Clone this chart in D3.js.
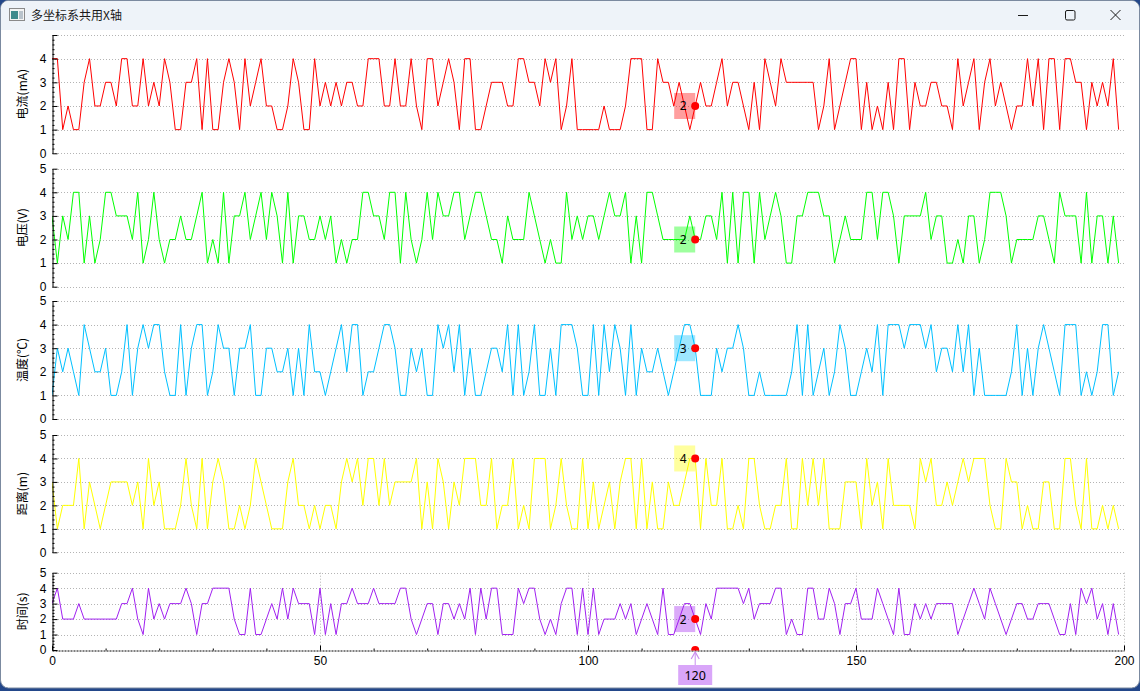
<!DOCTYPE html>
<html>
<head>
<meta charset="utf-8">
<script src="https://cdn.jsdelivr.net/npm/d3@7"></script>
<style>
html, body { margin: 0; padding: 0; background: #23478a; overflow: hidden; }
svg { display: block; font-family: "Noto Sans", "Noto Sans CJK SC", sans-serif; }
</style>
</head>
<body>
<svg id="chart" width="1140" height="691"></svg>
<script>
// series values, one entry per x = 0..199
const current = [
  4,4,1,2,1,1,3,4,2,2, 3,3,2,4,4,2,2,4,2,3, 2,4,3,1,1,3,3,4,1,4, 1,1,3,4,3,1,4,2,3,4,
  2,2,1,1,2,4,3,1,1,4, 2,3,2,3,2,3,3,2,2,4, 4,4,2,2,4,2,2,4,2,1, 4,4,2,3,4,3,1,4,4,1,
  1,2,3,3,3,2,2,4,4,3, 3,2,4,3,4,1,2,4,1,1, 1,1,1,2,1,1,1,2,4,4, 4,1,1,4,3,3,2,3,2,1,
  2,3,2,2,3,4,2,3,3,2, 1,3,1,4,3,2,4,3,3,3, 3,3,3,1,2,4,1,2,3,4, 4,1,3,1,2,1,3,1,4,4,
  1,3,2,2,3,3,2,2,1,4, 2,3,4,1,3,4,2,3,2,1, 2,2,4,2,4,1,4,4,1,4, 4,3,3,1,3,2,3,2,4,1
];
const voltage = [
  3,1,3,2,4,4,1,3,1,2, 4,4,3,3,3,2,4,1,2,4, 2,1,2,2,3,2,2,3,4,1, 2,1,4,1,3,3,4,2,3,4,
  2,4,3,1,4,1,3,3,2,2, 3,2,3,1,2,1,2,2,4,4, 3,3,2,4,4,1,4,2,1,2, 4,2,4,3,3,4,4,2,3,4,
  4,3,2,2,1,3,2,2,2,4, 3,2,1,2,1,1,4,2,3,2, 3,3,2,3,4,3,3,4,1,3, 1,4,4,3,2,2,2,2,2,3,
  2,2,3,3,2,4,1,4,1,4, 4,1,4,2,3,4,3,1,1,3, 3,4,4,4,3,3,1,2,3,2, 2,2,4,4,2,4,4,3,1,3,
  3,3,3,4,2,3,3,1,1,2, 1,3,3,1,2,4,4,4,3,1, 2,2,2,2,3,3,2,1,4,3, 3,3,1,4,1,3,3,1,3,1
];
const temperature = [
  1,3,2,3,2,1,4,3,2,2, 3,1,1,2,4,1,3,4,3,4, 4,2,1,1,4,1,3,4,4,1, 2,4,3,3,1,3,3,4,1,1,
  3,3,2,2,3,1,3,1,4,2, 2,1,2,3,4,2,4,4,1,2, 2,3,4,4,3,1,1,3,2,3, 1,1,4,3,4,2,4,1,3,1,
  1,2,3,3,2,4,1,4,1,2, 4,1,1,3,1,4,4,4,3,1, 1,4,1,4,2,4,3,1,4,1, 3,2,2,3,2,1,2,3,4,4,
  3,1,1,1,3,2,3,3,4,3, 1,1,2,1,1,1,1,1,2,4, 1,4,1,2,3,1,2,4,3,1, 1,2,3,2,4,1,4,4,4,3,
  4,4,4,3,4,2,3,3,2,4, 2,4,1,3,1,1,1,1,1,2, 4,1,3,1,3,4,3,2,1,4, 4,4,1,2,1,2,4,4,1,2
];
const distance = [
  3,1,2,2,2,4,1,3,2,1, 2,3,3,3,3,2,3,1,4,2, 3,1,1,1,2,4,2,1,4,1, 3,4,3,1,1,2,1,2,4,3,
  2,1,1,1,3,4,2,2,1,2, 1,2,2,1,3,4,3,4,2,4, 4,2,4,2,3,3,3,3,4,1, 3,1,4,3,1,3,2,4,4,4,
  2,2,4,1,2,2,4,1,2,1, 4,4,4,1,2,4,2,1,1,4, 1,3,1,2,3,1,3,4,4,1, 4,1,3,1,1,3,2,2,3,4,
  4,1,4,2,2,4,1,1,2,1, 4,4,2,1,1,2,2,4,1,1, 4,2,4,2,4,1,1,1,3,3, 3,1,4,2,3,1,4,2,2,2,
  2,1,4,3,4,2,2,3,2,3, 4,3,4,4,4,2,1,1,4,3, 3,1,2,1,1,3,3,1,1,4, 4,2,1,4,1,1,2,1,2,1
];
const time = [
  3,4,2,2,2,3,2,2,2,2, 2,2,2,3,3,4,2,1,4,2, 3,2,3,3,3,4,3,1,3,3, 4,4,4,4,2,1,1,4,1,1,
  2,3,2,4,2,4,3,3,3,1, 4,1,3,1,3,3,4,3,3,3, 4,3,3,3,3,4,4,2,1,2, 3,3,1,3,3,2,3,2,4,1,
  4,2,4,4,1,1,1,4,3,4, 4,2,1,2,1,3,4,4,1,4, 1,4,1,2,2,2,3,2,3,1, 2,3,2,1,4,1,1,2,3,3,
  2,1,3,2,4,4,4,4,4,3, 4,2,3,3,3,4,4,1,2,1, 1,4,4,2,2,4,3,1,3,3, 4,2,2,2,4,3,2,1,4,1,
  1,3,2,3,2,3,3,3,3,1, 2,3,4,3,2,4,3,2,1,2, 3,3,2,2,3,3,3,2,1,1, 3,1,4,3,4,2,3,1,3,1
];

const seriesList = [current, voltage, temperature, distance, time];
const axisLabels = ['电流(mA)', '电压(V)', '温度(℃)', '距离(m)', '时间(s)'];
const colors = ['#ff0000', '#00ff00', '#00c0ff', '#ffff00', '#a020f0'];
const yTicks = [0, 1, 2, 3, 4, 5];
const xTicks = [0, 50, 100, 150, 200];
const tracerX = 120;

// layout of the stacked axis rects
const panelTop = [35, 168.7, 301, 435, 572.7];
const panelBottom = [153.3, 286.7, 419, 552.3, 650];
const plotLeft = 52, plotRight = 1124;

const svg = d3.select('#chart');

// window frame
svg.append('rect')
    .attr('x', 0.5).attr('y', 0.5)
    .attr('width', 1139).attr('height', 687.5)
    .attr('rx', 8)
    .attr('fill', '#ffffff')
    .attr('stroke', '#7b8aa0');

svg.append('clipPath').attr('id', 'winclip')
    .append('rect')
    .attr('x', 1).attr('y', 1).attr('width', 1138).attr('height', 686).attr('rx', 8);

svg.append('rect')
    .attr('clip-path', 'url(#winclip)')
    .attr('x', 0).attr('y', 0).attr('width', 1140).attr('height', 30)
    .attr('fill', '#eef3f9');

// title bar icon
const icon = svg.append('g');
icon.append('rect')
    .attr('x', 9.5).attr('y', 8.5).attr('width', 15).attr('height', 12)
    .attr('fill', '#f4f4f4').attr('stroke', '#8a8a8a');
icon.append('rect')
    .attr('x', 11).attr('y', 11).attr('width', 7).attr('height', 8)
    .attr('fill', '#3f8a8c');
icon.append('rect')
    .attr('x', 19).attr('y', 11).attr('width', 4).attr('height', 8)
    .attr('fill', '#b9c3cc');

svg.append('text')
    .attr('x', 31).attr('y', 19.5)
    .attr('font-family', '"Noto Sans CJK SC", sans-serif')
    .attr('font-size', 12)
    .attr('fill', '#1a1a1a')
    .text('多坐标系共用X轴');

// window buttons
const btn = svg.append('g').attr('stroke', '#1a1a1a').attr('fill', 'none').attr('stroke-width', 1);
btn.append('line').attr('x1', 1018).attr('x2', 1028).attr('y1', 15.5).attr('y2', 15.5);
btn.append('rect').attr('x', 1065.5).attr('y', 10.5).attr('width', 9.5).attr('height', 9.5).attr('rx', 1.5);
btn.append('line').attr('x1', 1110.5).attr('y1', 10).attr('x2', 1120.5).attr('y2', 20);
btn.append('line').attr('x1', 1120.5).attr('y1', 10).attr('x2', 1110.5).attr('y2', 20);

// shared x scale
const x = d3.scaleLinear().domain([0, 200]).range([plotLeft, plotRight]);
const minorY = d3.range(0, 5.0001, 0.2).filter(v => Math.abs(v - Math.round(v)) > 1e-6);
const minorX = d3.range(0, 200.001, 10).filter(v => v % 50 !== 0);

seriesList.forEach((values, i) => {
    const y = d3.scaleLinear().domain([0, 5]).range([panelBottom[i], panelTop[i]]);
    const isLast = i === seriesList.length - 1;
    const g = svg.append('g');

    // horizontal grid
    g.append('g')
        .selectAll('line')
        .data(isLast ? yTicks.slice(1) : yTicks)
        .enter()
        .append('line')
        .attr('x1', plotLeft).attr('x2', plotRight)
        .attr('y1', d => Math.round(y(d)) + 0.5).attr('y2', d => Math.round(y(d)) + 0.5)
        .attr('stroke', '#b4b4b4')
        .attr('stroke-dasharray', '1,2');

    // vertical grid only on the bottom rect
    if (isLast) {
        g.append('g')
            .selectAll('line')
            .data(xTicks.slice(1))
            .enter()
            .append('line')
            .attr('x1', d => Math.round(x(d)) + 0.5).attr('x2', d => Math.round(x(d)) + 0.5)
            .attr('y1', panelTop[i]).attr('y2', panelBottom[i])
            .attr('stroke', '#b4b4b4')
            .attr('stroke-dasharray', '1,2');
    }

    // the curve
    const clipId = 'clip' + i;
    svg.append('clipPath').attr('id', clipId)
        .append('rect')
        .attr('x', plotLeft).attr('y', panelTop[i] - 2)
        .attr('width', plotRight - plotLeft).attr('height', panelBottom[i] - panelTop[i] + 2);

    const line = d3.line()
        .x((d, k) => x(k))
        .y(d => y(d));

    g.append('path')
        .datum(values)
        .attr('clip-path', `url(#${clipId})`)
        .attr('fill', 'none')
        .attr('stroke', colors[i])
        .attr('stroke-width', 1)
        .attr('d', line);

    // y axis, ticks pointing inward
    const yAxis = g.append('g')
        .attr('transform', `translate(${plotLeft + 0.5},0)`)
        .call(d3.axisLeft(y)
            .tickValues(yTicks)
            .tickSizeInner(-5)
            .tickSizeOuter(0)
            .tickPadding(6)
            .tickFormat(d => (i === 0 && d === 5) ? '' : d));
    yAxis.selectAll('text').attr('font-size', 12).attr('fill', '#000');
    yAxis.select('.domain').attr('stroke', '#000');

    g.append('g')
        .attr('transform', `translate(${plotLeft + 0.5},0)`)
        .call(d3.axisLeft(y).tickValues(minorY).tickSizeInner(-2).tickSizeOuter(0).tickFormat(''))
        .select('.domain').remove();

    // axis title
    g.append('text')
        .attr('transform', `translate(21,${(panelTop[i] + panelBottom[i]) / 2}) rotate(-90)`)
        .attr('text-anchor', 'middle')
        .attr('dominant-baseline', 'central')
        .attr('font-family', '"Noto Sans CJK SC", sans-serif')
        .attr('font-size', 12)
        .attr('fill', '#000')
        .text(axisLabels[i]);

    // shared x axis on the bottom rect
    if (isLast) {
        const xAxis = g.append('g')
            .attr('transform', `translate(0,${panelBottom[i] + 0.5})`)
            .call(d3.axisBottom(x)
                .tickValues(xTicks)
                .tickSizeInner(-5)
                .tickSizeOuter(0)
                .tickPadding(6));
        xAxis.selectAll('text').attr('font-size', 12).attr('fill', '#000');
        xAxis.select('.domain').attr('stroke', '#000').attr('stroke-dasharray', '2,1');

        g.append('g')
            .attr('transform', `translate(0,${panelBottom[i] + 0.5})`)
            .call(d3.axisBottom(x).tickValues(minorX).tickSizeInner(-2).tickSizeOuter(0).tickFormat(''))
            .select('.domain').remove();
    }

    // tracer label and dot at x = tracerX
    const v = values[tracerX];
    const cx = x(tracerX), cy = y(v);
    g.append('rect')
        .attr('x', cx - 21).attr('y', cy - 13)
        .attr('width', 21).attr('height', 26)
        .attr('fill', colors[i])
        .attr('fill-opacity', 0.38);
    g.append('text')
        .attr('x', cx - 12).attr('y', cy)
        .attr('text-anchor', 'middle')
        .attr('dominant-baseline', 'central')
        .attr('font-size', 12)
        .attr('fill', '#000')
        .text(v);
    g.append('circle')
        .attr('cx', cx).attr('cy', cy).attr('r', 4)
        .attr('fill', '#ff0000');
});

// tracer on the x axis
const tx = x(tracerX), axisY = panelBottom[panelBottom.length - 1];
svg.append('clipPath').attr('id', 'halfdot')
    .append('rect').attr('x', tx - 6).attr('y', axisY - 6).attr('width', 12).attr('height', 6.5);
svg.append('circle')
    .attr('clip-path', 'url(#halfdot)')
    .attr('cx', tx).attr('cy', axisY).attr('r', 4)
    .attr('fill', '#ff0000');

svg.append('line')
    .attr('x1', tx).attr('x2', tx)
    .attr('y1', axisY + 3).attr('y2', axisY + 15)
    .attr('stroke', '#c98ef0');
svg.append('path')
    .attr('d', `M${tx - 4},${axisY + 9} L${tx},${axisY + 2} L${tx + 4},${axisY + 9}`)
    .attr('fill', 'none')
    .attr('stroke', '#c98ef0')
    .attr('stroke-width', 1.2);

svg.append('rect')
    .attr('x', tx - 17).attr('y', axisY + 15)
    .attr('width', 34).attr('height', 20)
    .attr('fill', colors[4])
    .attr('fill-opacity', 0.4);
svg.append('text')
    .attr('x', tx).attr('y', axisY + 25)
    .attr('text-anchor', 'middle')
    .attr('dominant-baseline', 'central')
    .attr('font-size', 12.5)
    .attr('fill', '#000')
    .text(tracerX);
</script>
</body>
</html>
